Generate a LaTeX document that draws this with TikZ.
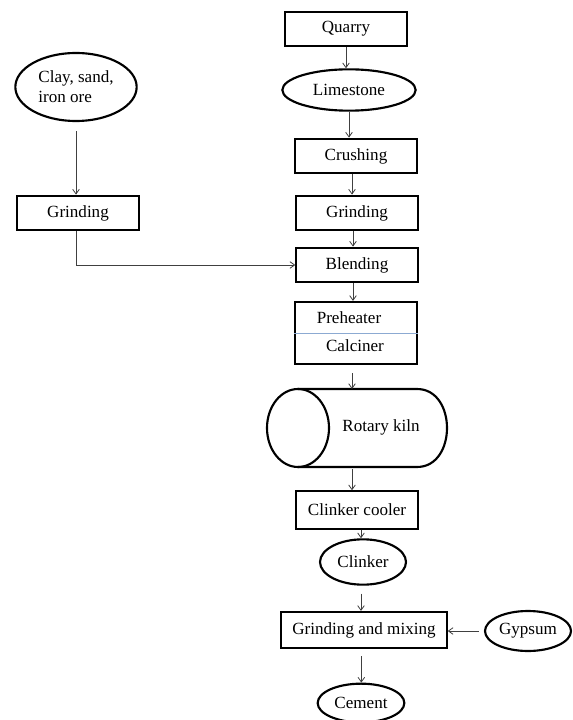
\documentclass[tikz,border=0pt]{standalone}
\usepackage{fontspec}
\setmainfont{Liberation Serif}
\usetikzlibrary{shapes.geometric, arrows.meta}
\definecolor{divline}{RGB}{140,170,210}
\begin{document}
\begin{tikzpicture}[x=0.75pt, y=-0.75pt,
  every node/.style={font=\fontsize{12.8}{15}\selectfont},
  box/.style={draw, line width=1.6pt, rectangle, minimum width=91pt, minimum height=26pt, inner sep=1pt},
  oval/.style={draw, line width=1.6pt, ellipse, inner sep=1pt},
  arr/.style={-{Straight Barb[length=3.5pt, width=5pt]}, gray!50!black, line width=0.6pt}]
  \useasboundingbox (0,0) rectangle (573,720);
  % main line
  \node[box] (quarry) at (346,29) {Quarry};
  \node[oval, minimum width=100pt, minimum height=31pt] (lime) at (349,90) {Limestone};
  \node[box] (crush) at (356,156) {Crushing};
  \node[box] (grind) at (357,213) {Grinding};
  \node[box] (blend) at (357,265) {Blending};
  \node[box, minimum height=46.5pt] (preheat) at (356,333) {};
  \node (preh) at (349,318) {Preheater};
  \node (calc) at (355,346) {Calciner};
  \draw[divline, line width=0.6pt] (preheat.west) -- (preheat.east);
  % rotary kiln
  \draw[line width=1.6pt] (298,428) ellipse [x radius=31, y radius=39];
  \draw[line width=1.6pt] (298,389) -- (417,389) .. controls (457,389) and (457,467) .. (417,467) -- (298,467);
  \node (kiln) at (381,427) {Rotary kiln};
  \coordinate (kilntop) at (352,389);
  \coordinate (kilnbot) at (352,469);
  \node[box, minimum height=28pt] (cooler) at (357,510) {Clinker cooler};
  \node[oval, minimum width=64.5pt, minimum height=34pt] (clinker) at (363,562) {Clinker};
  \node[box, minimum width=124pt, minimum height=27pt] (mix) at (364,630) {Grinding and mixing};
  \node[oval, minimum width=64.5pt, minimum height=30pt] (gyps) at (528,631) {Gypsum};
  \node[oval, minimum width=65pt, minimum height=29pt] (cement) at (361,703) {Cement};
  % side line
  \node[oval, minimum width=91pt, minimum height=51pt, align=left] (clay) at (76,87) {Clay, sand,\\iron ore};
  \node[box] (grindL) at (78,213) {Grinding};
  % arrows
  \draw[arr] (quarry.south) -- (quarry.south |- lime.north);
  \draw[arr] (lime.south) -- (lime.south |- crush.north);
  \draw[arr] ([xshift=-3pt]crush.south) -- ([xshift=-3pt]crush.south |- grind.north);
  \draw[arr] ([xshift=-3pt]grind.south) -- ([xshift=-3pt]grind.south |- blend.north);
  \draw[arr] ([xshift=-3pt]blend.south) -- ([xshift=-3pt]blend.south |- preheat.north);
  \draw[arr] (preheat.south -| kilntop) ++(0,8) -- (kilntop);
  \draw[arr] (kilnbot) -- (kilnbot |- cooler.north);
  \draw[arr] ([xshift=3pt]cooler.south) -- ([xshift=3pt]cooler.south |- clinker.north);
  \draw[arr] ([xshift=-1.5pt]clinker.south) ++(0,8) -- ([xshift=-1.5pt]clinker.south |- mix.north);
  \draw[arr] (gyps.west) ++(-5,0) -- (gyps.west -| mix.east);
  \draw[arr] ([xshift=-2pt]mix.south) ++(0,7) -- ([xshift=-2pt]mix.south |- cement.north);
  \draw[arr, shorten <=7pt] (clay.south) -- (clay.south |- grindL.north);
  \draw[arr] ([xshift=-1.5pt]grindL.south) |- (blend.west);
\end{tikzpicture}
\end{document}
